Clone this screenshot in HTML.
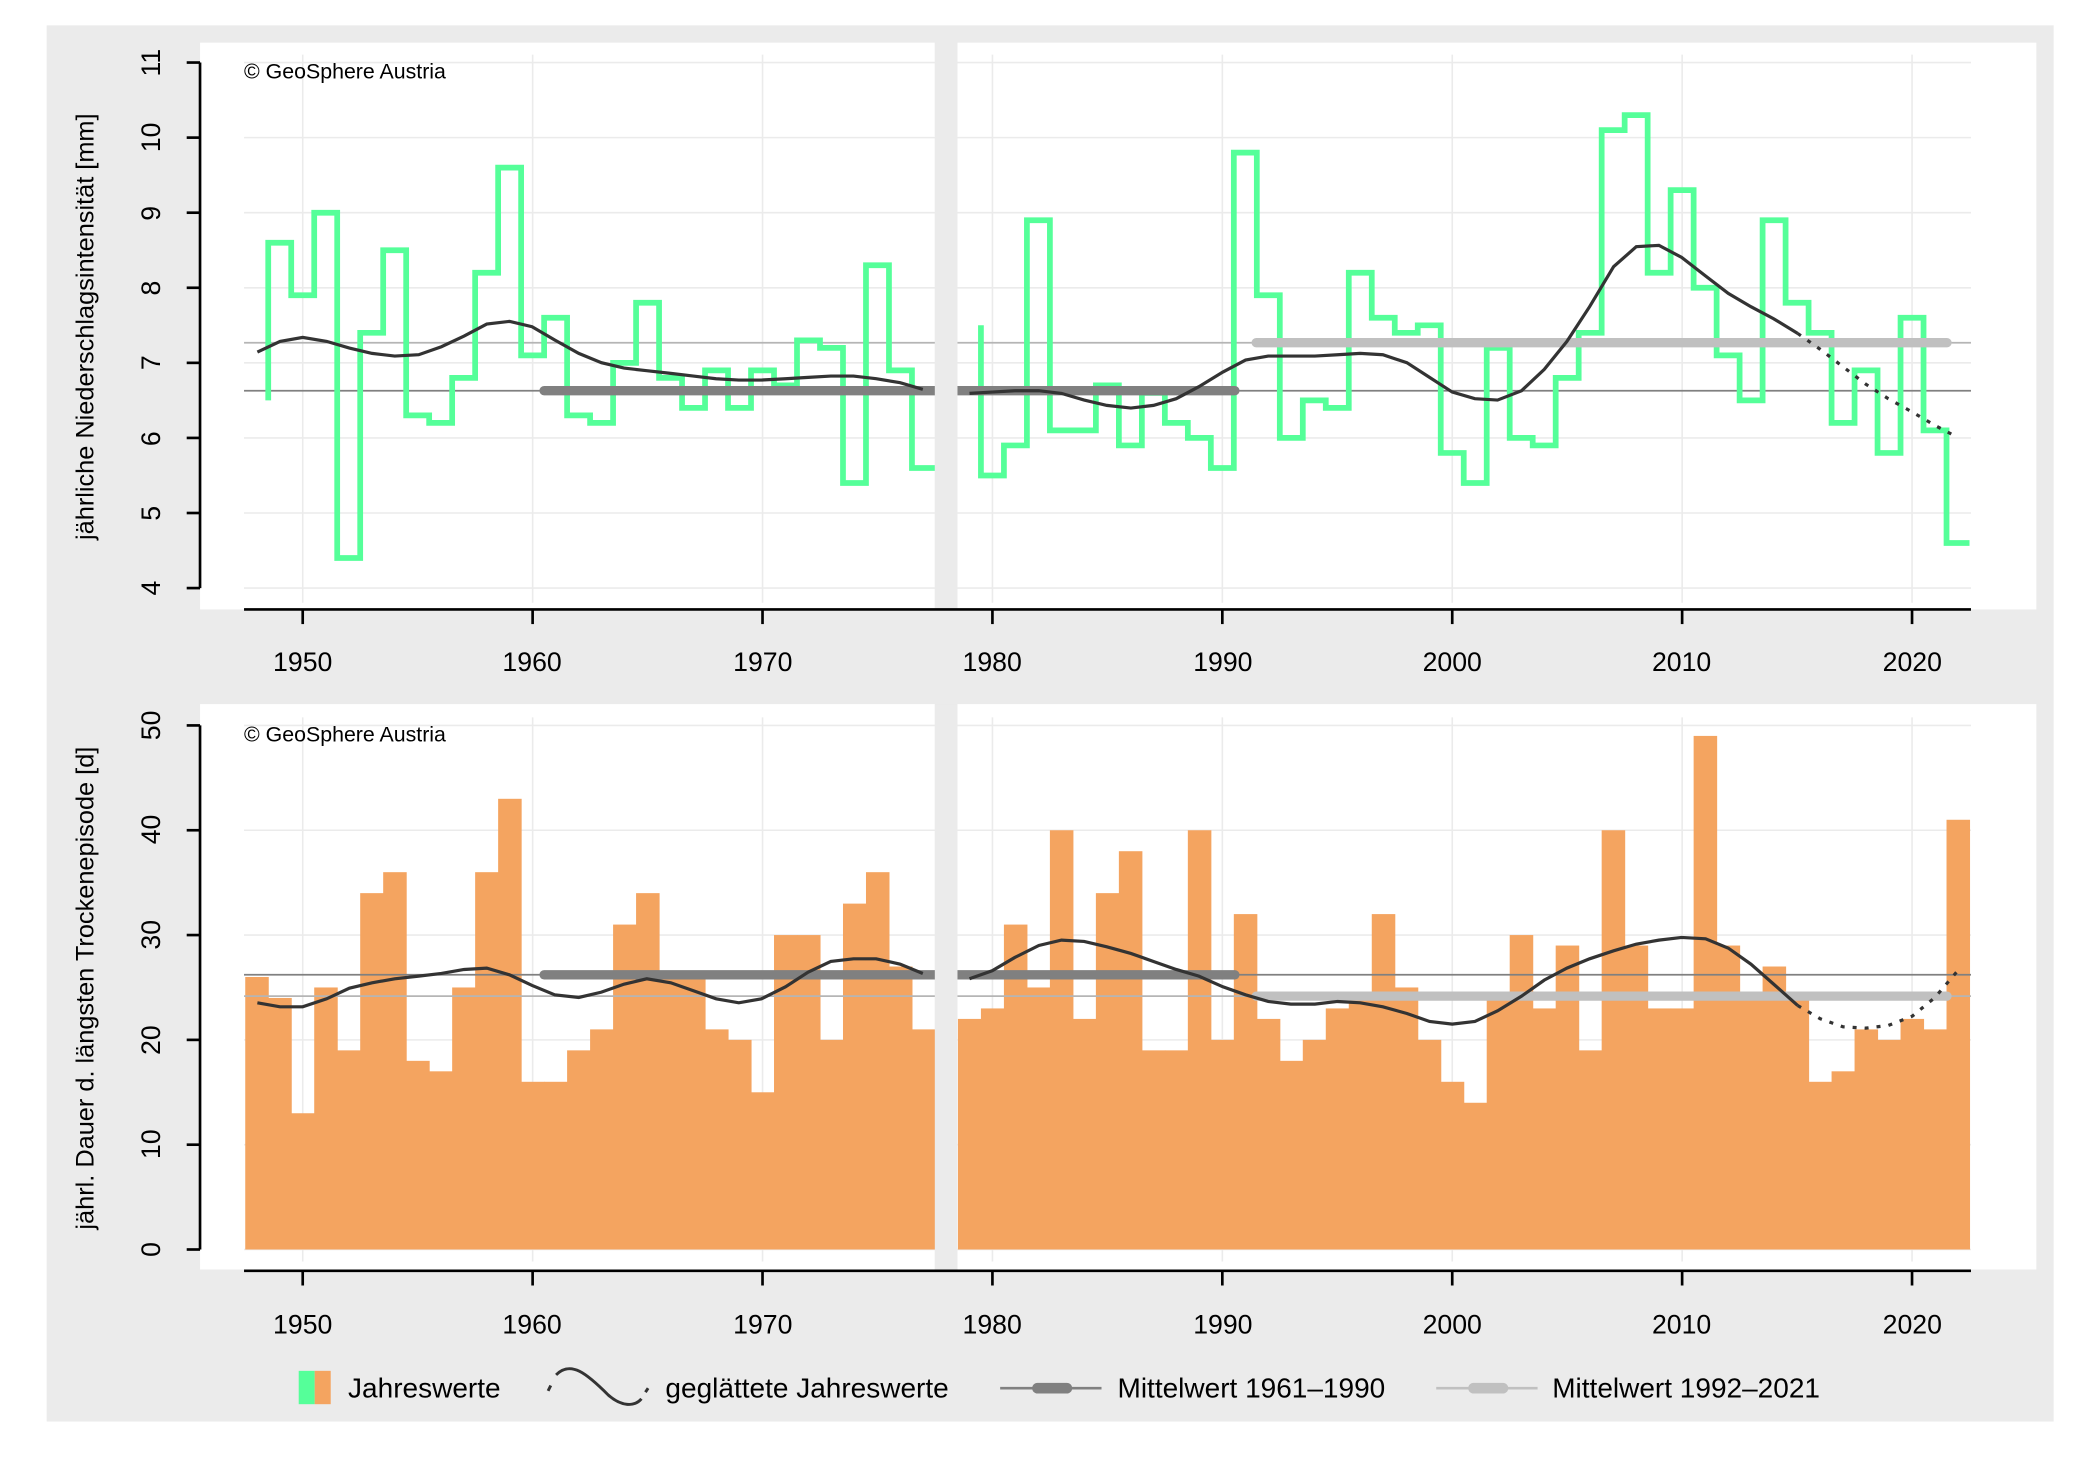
<!DOCTYPE html>
<html><head><meta charset="utf-8"><style>
html,body{margin:0;padding:0;background:#fff;}
svg{display:block;}
text{font-family:"Liberation Sans",Arial,sans-serif;fill:#000;}
</style></head><body>
<svg id="s" width="2091" height="1465" viewBox="0 0 1568 1098.6" preserveAspectRatio="none" xmlns="http://www.w3.org/2000/svg">
<rect x="35" y="19" width="1505" height="1047" fill="#ebebeb"/>
<rect x="150" y="32" width="551" height="425" fill="#fff"/>
<rect x="718" y="32" width="809" height="425" fill="#fff"/>
<rect x="150" y="528" width="551" height="424" fill="#fff"/>
<rect x="718" y="528" width="809" height="424" fill="#fff"/>
<g id="grid" stroke="#ebebeb" stroke-width="1.2"></g>
<g id="bars" fill="#f4a460"></g>
<g id="lines"></g>
<g id="gaps"><rect x="701" y="32" width="17" height="425" fill="#ebebeb"/><rect x="701" y="528" width="17" height="424" fill="#ebebeb"/></g>
<g id="axes" stroke="#000" stroke-width="2" fill="none"></g>
<text x="183" y="59" font-size="16">© GeoSphere Austria</text>
<text x="183" y="556" font-size="16">© GeoSphere Austria</text>
<text transform="translate(70,245) rotate(-90)" font-size="19" text-anchor="middle">jährliche Niederschlagsintensität [mm]</text>
<text transform="translate(70,741) rotate(-90)" font-size="19" text-anchor="middle">jährl. Dauer d. längsten Trockenepisode [d]</text>
<g font-size="20" text-anchor="middle">
<text transform="translate(120,441) rotate(-90)">4</text>
<text transform="translate(120,385) rotate(-90)">5</text>
<text transform="translate(120,329) rotate(-90)">6</text>
<text transform="translate(120,272) rotate(-90)">7</text>
<text transform="translate(120,216) rotate(-90)">8</text>
<text transform="translate(120,160) rotate(-90)">9</text>
<text transform="translate(120,103) rotate(-90)">10</text>
<text transform="translate(120,47) rotate(-90)">11</text>
<text transform="translate(120,937) rotate(-90)">0</text>
<text transform="translate(120,858) rotate(-90)">10</text>
<text transform="translate(120,780) rotate(-90)">20</text>
<text transform="translate(120,701) rotate(-90)">30</text>
<text transform="translate(120,622) rotate(-90)">40</text>
<text transform="translate(120,544) rotate(-90)">50</text>
<text x="227" y="503">1950</text><text x="399" y="503">1960</text><text x="572" y="503">1970</text><text x="744" y="503">1980</text><text x="917" y="503">1990</text><text x="1089" y="503">2000</text><text x="1261" y="503">2010</text><text x="1434" y="503">2020</text>
<text x="227" y="1000">1950</text><text x="399" y="1000">1960</text><text x="572" y="1000">1970</text><text x="744" y="1000">1980</text><text x="917" y="1000">1990</text><text x="1089" y="1000">2000</text><text x="1261" y="1000">2010</text><text x="1434" y="1000">2020</text>
</g>
<rect x="224" y="1028" width="12" height="25" fill="#55ff99"/><rect x="236" y="1028" width="12" height="25" fill="#f4a460"/>
<text x="261" y="1048" font-size="21">Jahreswerte</text>
<path d="M411,1043 l2,-4 M417,1031 C428,1020 440,1030 456,1046 C466,1055 476,1055 481,1049 M484,1044 l2,-3" stroke="#333" stroke-width="2.2" fill="none"/>
<text x="499" y="1048" font-size="21">geglättete Jahreswerte</text>
<line x1="750" y1="1041" x2="826" y2="1041" stroke="#808080" stroke-width="2"/><line x1="778" y1="1041" x2="800" y2="1041" stroke="#808080" stroke-width="8" stroke-linecap="round"/>
<text x="838" y="1048" font-size="21">Mittelwert 1961–1990</text>
<line x1="1077" y1="1041" x2="1153" y2="1041" stroke="#c0c0c0" stroke-width="2"/><line x1="1105" y1="1041" x2="1127" y2="1041" stroke="#c0c0c0" stroke-width="8" stroke-linecap="round"/>
<text x="1164" y="1048" font-size="21">Mittelwert 1992–2021</text>
</svg>
<script>
var NS="http://www.w3.org/2000/svg";
function X(y){return 227+(y-1950)*17.24;}
function el(p,t,a){var e=document.createElementNS(NS,t);for(var k in a)e.setAttribute(k,a[k]);document.getElementById(p).appendChild(e);return e;}
function Yt(v){return 441-(v-4)*56.3;}
function Yb(v){return 937-v*7.86;}
for(var d=1950;d<=2020;d+=10){el("grid","line",{x1:X(d),x2:X(d),y1:41,y2:452});el("grid","line",{x1:X(d),x2:X(d),y1:538,y2:946});}
for(var v=4;v<=11;v++)el("grid","line",{x1:183,x2:1478,y1:Yt(v),y2:Yt(v)});
for(var v=0;v<=50;v+=10)el("grid","line",{x1:183,x2:1478,y1:Yb(v),y2:Yb(v)});
var tL=[6.5,8.6,7.9,9.0,4.4,7.4,8.5,6.3,6.2,6.8,8.2,9.6,7.1,7.6,6.3,6.2,7.0,7.8,6.8,6.4,6.9,6.4,6.9,6.7,7.3,7.2,5.4,8.3,6.9,5.6];
var tR=[7.5,5.5,5.9,8.9,6.1,6.1,6.7,5.9,6.6,6.2,6.0,5.6,9.8,7.9,6.0,6.5,6.4,8.2,7.6,7.4,7.5,5.8,5.4,7.2,6.0,5.9,6.8,7.4,10.1,10.3,8.2,9.3,8.0,7.1,6.5,8.9,7.8,7.4,6.2,6.9,5.8,7.6,6.1,4.6];
function step(vals,y0){var d="M"+X(y0+0.5)+","+Yt(vals[0]);for(var i=1;i<vals.length;i++){var y=y0+i;d+="V"+Yt(vals[i])+"H"+X(y+0.5);}return d;}
el("lines","line",{x1:183,x2:1478,y1:257,y2:257,stroke:"#b5b5b5","stroke-width":1.3});
el("lines","line",{x1:183,x2:1478,y1:293,y2:293,stroke:"#808080","stroke-width":1.3});
el("lines","line",{x1:183,x2:1478,y1:747,y2:747,stroke:"#b5b5b5","stroke-width":1.3});
el("lines","line",{x1:183,x2:1478,y1:731,y2:731,stroke:"#808080","stroke-width":1.3});
el("lines","path",{d:step(tL,1948),stroke:"#55ff99","stroke-width":4.3,fill:"none"});
el("lines","path",{d:step(tR,1979),stroke:"#55ff99","stroke-width":4.3,fill:"none"});
var bL=[26,24,13,25,19,34,36,18,17,25,36,43,16,16,19,21,31,34,26,26,21,20,15,30,30,20,33,36,27,21];
var bR=[22,23,31,25,40,22,34,38,19,19,40,20,32,22,18,20,23,24,32,25,20,16,14,24,30,23,29,19,40,29,23,23,49,29,24,27,24,16,17,21,20,22,21,41];
function bars(vals,y0){for(var i=0;i<vals.length;i++){var y=y0+i;el("bars","rect",{x:X(y-0.5),y:Yb(vals[i]),width:17.24+0.4,height:937-Yb(vals[i])});}}
bars(bL,1948);bars(bR,1979);
function thick(x1,x2,y,c){el("lines","line",{x1:x1,x2:x2,y1:y,y2:y,stroke:c,"stroke-width":7,"stroke-linecap":"round"});}
thick(408,926,293,"#808080");thick(942,1460,257,"#c0c0c0");
thick(408,926,731,"#808080");thick(942,1460,747,"#c0c0c0");
function poly(pts,dash){el("lines","polyline",{points:pts,fill:"none",stroke:"#333","stroke-width":2.4,"stroke-dasharray":dash?"3,6":"none"});}
poly("193,264 210,256 227,253 245,256 262,261 279,265 296,267 314,266 331,260 348,252 365,243 382,241 399,245 416,255 434,265 451,272 468,276 485,278 503,280 520,282 537,284 554,285 571,285 589,284 606,283 623,282 640,282 657,284 675,287 692,292");
poly("727,295 744,294 761,293 779,293 796,295 813,300 830,304 848,306 865,304 882,299 899,290 917,279 934,270 951,267 968,267 986,267 1003,266 1020,265 1037,266 1055,272 1072,283 1089,294 1106,299 1123,300 1141,293 1158,277 1175,256 1192,230 1210,200 1227,185 1244,184 1261,193 1279,207 1296,220 1313,230 1330,239 1348,250");
poly("1348,250 1365,262 1382,275 1399,288 1416,299 1434,309 1451,319 1468,328",true);
poly("193,752 210,755 227,755 245,749 262,741 279,737 296,734 314,732 331,730 348,727 365,726 382,731 399,739 416,746 434,748 451,744 468,738 485,734 503,737 520,743 537,749 554,752 571,749 589,740 606,729 623,721 640,719 657,719 675,723 692,730");
poly("727,734 744,728 761,718 779,709 796,705 813,706 830,710 848,715 865,721 882,727 899,732 917,740 934,746 951,751 968,753 986,753 1003,751 1020,752 1037,755 1055,760 1072,766 1089,768 1106,766 1123,758 1141,747 1158,735 1175,726 1192,719 1210,713 1227,708 1244,705 1261,703 1279,704 1296,711 1313,723 1330,738 1348,754");
poly("1348,754 1365,764 1382,770 1399,771 1416,769 1434,762 1451,748 1468,728",true);
function ax(d){el("axes","path",{d:d});}
ax("M150,"+Yt(4)+"V"+Yt(11));for(var v=4;v<=11;v++)ax("M140,"+Yt(v)+"H150");
ax("M150,"+Yb(0)+"V"+Yb(50));for(var v=0;v<=50;v+=10)ax("M140,"+Yb(v)+"H150");
ax("M183,457H1478");ax("M183,953H1478");
for(var d=1950;d<=2020;d+=10){ax("M"+X(d)+",457V468");ax("M"+X(d)+",953V964");}
</script>
</body></html>
